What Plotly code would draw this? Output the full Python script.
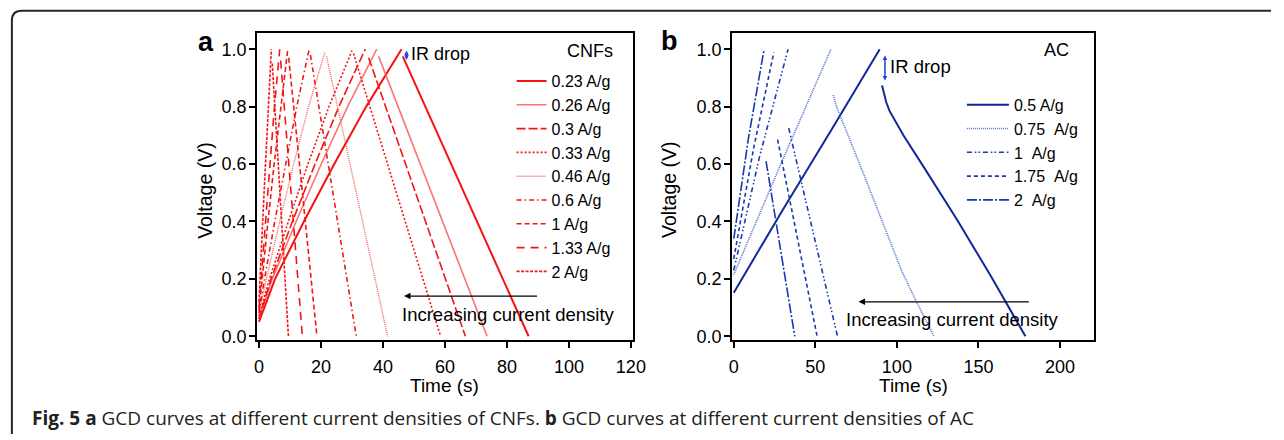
import plotly.graph_objects as go

# ---------------- Panel a : CNFs ----------------
cnf_labels = ["0.23 A/g", "0.26 A/g", "0.3 A/g", "0.33 A/g", "0.46 A/g",
              "0.6 A/g", "1 A/g", "1.33 A/g", "2 A/g"]
cnf_charge_t = [
    [0, 5.2, 14.5, 24.3, 34.6, 46.0],
    [0, 4.3, 12.0, 20.1, 28.6, 38.0],
    [0, 3.9, 10.8, 18.1, 25.8, 34.3],
    [0, 3.4, 9.5, 15.8, 22.6, 30.0],
    [0, 2.4, 6.7, 11.2, 16.0, 21.3],
    [0, 1.8, 5.1, 8.6, 12.2, 16.2],
    [0, 1.0, 2.9, 4.9, 7.0, 9.3],
    [0, 0.7, 2.1, 3.5, 5.0, 6.7],
    [0, 0.4, 1.2, 2.1, 3.0, 4.0],
]
cnf_charge_v = [
    [0.05, 0.2, 0.4, 0.6, 0.8, 1.0],
    [0.06, 0.2, 0.4, 0.6, 0.8, 1.0],
    [0.06, 0.2, 0.4, 0.6, 0.8, 1.0],
    [0.07, 0.2, 0.4, 0.6, 0.8, 0.995],
    [0.08, 0.2, 0.4, 0.6, 0.8, 0.99],
    [0.08, 0.2, 0.4, 0.6, 0.8, 1.0],
    [0.09, 0.2, 0.4, 0.6, 0.8, 1.0],
    [0.10, 0.2, 0.4, 0.6, 0.8, 1.0],
    [0.12, 0.2, 0.4, 0.6, 0.8, 1.0],
]
cnf_dis_t = [
    [46.4, 66.5, 87.0],
    [38.6, 56.0, 73.6],
    [35.4, 51.0, 66.6],
    [30.5, 44.5, 58.6],
    [21.8, 31.6, 41.5],
    [16.6, 24.0, 31.4],
    [9.6, 14.2, 18.7],
    [7.0, 10.5, 14.0],
    [4.3, 6.9, 9.5],
]
cnf_dis_v = [
    [0.975, 0.49, 0.0],
    [0.975, 0.49, 0.0],
    [0.97, 0.485, 0.0],
    [0.985, 0.49, 0.0],
    [0.975, 0.49, 0.0],
    [0.98, 0.49, 0.0],
    [0.97, 0.485, 0.0],
    [0.96, 0.48, 0.0],
    [0.95, 0.475, 0.0],
]

# ---------------- Panel b : AC ----------------
ac_labels = ["0.5 A/g", "0.75\u00a0\u00a0A/g", "1\u00a0\u00a0A/g", "1.75\u00a0\u00a0A/g", "2\u00a0\u00a0A/g"]
ac_charge_t = [
    [0, 30, 60, 89.5],
    [0, 30, 59.6],
    [0, 16, 33.3],
    [0, 12, 24.6],
    [0, 9, 18.6],
]
ac_charge_v = [
    [0.152, 0.44, 0.72, 1.0],
    [0.215, 0.615, 1.0],
    [0.23, 0.63, 1.0],
    [0.27, 0.65, 0.99],
    [0.34, 0.69, 1.0],
]
ac_dis_t = [
    [90.9, 92.0, 93.5, 95.5, 98.5, 104, 117, 137, 157.6, 178.8],
    [61.0, 63, 80, 103, 112, 122.8],
    [33.7, 48.5, 63.6],
    [26.9, 39.0, 51.1],
    [19.8, 28.6, 37.4],
]
ac_dis_v = [
    [0.874, 0.845, 0.815, 0.785, 0.755, 0.70, 0.585, 0.405, 0.21, 0.0],
    [0.84, 0.80, 0.56, 0.227, 0.12, 0.0],
    [0.725, 0.37, 0.0],
    [0.685, 0.345, 0.0],
    [0.61, 0.305, 0.0],
]

# ---------------- styles ----------------
RED = "rgb(245,20,20)"
cnf_styles = [
    dict(color=RED, width=2.0, dash="solid"),
    dict(color="rgba(250,90,90,0.85)", width=1.6, dash="solid"),
    dict(color=RED, width=1.6, dash="9px,3px"),
    dict(color=RED, width=1.6, dash="2px,2px"),
    dict(color="rgba(245,60,60,0.8)", width=1.4, dash="1px,1px"),
    dict(color=RED, width=1.6, dash="5px,3px,1.5px,3px"),
    dict(color=RED, width=1.6, dash="5px,3px"),
    dict(color=RED, width=1.6, dash="8px,6px"),
    dict(color=RED, width=1.6, dash="3px,1.5px"),
]
ac_styles = [
    dict(color="rgb(18,40,150)", width=2.0, dash="solid"),
    dict(color="rgb(80,110,205)", width=1.6, dash="1px,1px"),
    dict(color="rgb(25,55,175)", width=1.6, dash="5px,3px,1.5px,2px,1.5px,3px"),
    dict(color="rgb(25,55,175)", width=1.6, dash="4px,3px"),
    dict(color="rgb(25,55,175)", width=1.6, dash="10px,2px,2px,2px"),
]

FONT = "Arial, Liberation Sans, sans-serif"

fig = go.Figure()
for i, name in enumerate(cnf_labels):
    fig.add_trace(go.Scatter(
        x=cnf_charge_t[i] + [None] + cnf_dis_t[i],
        y=cnf_charge_v[i] + [None] + cnf_dis_v[i],
        mode="lines", name=name, line=cnf_styles[i],
        xaxis="x", yaxis="y", legend="legend", connectgaps=False))
for i, name in enumerate(ac_labels):
    fig.add_trace(go.Scatter(
        x=ac_charge_t[i] + [None] + ac_dis_t[i],
        y=ac_charge_v[i] + [None] + ac_dis_v[i],
        mode="lines", name=name, line=ac_styles[i],
        xaxis="x2", yaxis="y2", legend="legend2", connectgaps=False))

W, H = 1284, 440
def px(x):
    return x / W
def py(y):
    return 1 - y / H

axis_common = dict(showgrid=False, zeroline=False, showline=True, linecolor="black",
                   linewidth=1.5, mirror=True, ticks="outside", ticklen=6, tickwidth=1.5,
                   tickcolor="black", tickfont=dict(family=FONT, size=18, color="black"))

fig.update_layout(
    width=W, height=H, margin=dict(l=0, r=0, t=0, b=0),
    paper_bgcolor="white", plot_bgcolor="white",
    xaxis=dict(domain=[px(257), px(638)], range=[-0.7, 120.7], tickvals=[0, 20, 40, 60, 80, 100, 120],
               anchor="y", ticklabelstandoff=3, **axis_common),
    yaxis=dict(domain=[py(345), py(33)], range=[-0.014, 1.058], tickvals=[0, 0.2, 0.4, 0.6, 0.8, 1.0],
               tickformat=".1f", anchor="x", ticklabelstandoff=-1, **axis_common),
    xaxis2=dict(domain=[px(738), px(1105)], range=[-1.2, 221], tickvals=[0, 50, 100, 150, 200],
                anchor="y2", ticklabelstandoff=3, **axis_common),
    yaxis2=dict(domain=[py(345), py(33)], range=[-0.014, 1.058], tickvals=[0, 0.2, 0.4, 0.6, 0.8, 1.0],
                tickformat=".1f", anchor="x2", ticklabelstandoff=-1, **axis_common),
    legend=dict(x=px(515), y=py(65), xanchor="left", yanchor="top", bgcolor="rgba(0,0,0,0)",
                font=dict(family=FONT, size=16, color="black")),
    legend2=dict(x=px(971), y=py(89), xanchor="left", yanchor="top", bgcolor="rgba(0,0,0,0)",
                 font=dict(family=FONT, size=16, color="black"), itemwidth=42),
    showlegend=True,
)

def pann(text, x, y, size, angle=0, xa="center", ya="middle", family=FONT, color="black"):
    return dict(text=text, x=px(x), y=py(y), xref="paper", yref="paper", showarrow=False,
                xanchor=xa, yanchor=ya, textangle=angle,
                font=dict(family=family, size=size, color=color))

ann = []
# panel letters
ann.append(pann("<b>a</b>", 206, 43, 27))
ann.append(pann("<b>b</b>", 675, 42, 27))
# axis titles
for xc in (205, 675):
    ann.append(pann("Voltage (V)", xc, 193, 19.5, angle=-90))
for xc in (447, 922):
    ann.append(pann("Time (s)", xc, 391, 19))
# series group titles
ann.append(dict(text="CNFs", x=115, y=0.994, xref="x", yref="y", xanchor="right", yanchor="middle",
                showarrow=False, font=dict(family=FONT, size=18, color="black")))
ann.append(dict(text="AC", x=207, y=0.998, xref="x2", yref="y2", xanchor="right", yanchor="middle",
                showarrow=False, font=dict(family=FONT, size=18, color="black")))
# IR drop markers
ann.append(dict(text="", x=47.6, y=0.963, ax=47.6, ay=1.0, xref="x", yref="y", axref="x", ayref="y",
                showarrow=True, arrowhead=2, arrowside="end+start", arrowsize=0.6, arrowwidth=1.5,
                arrowcolor="rgb(30,60,230)"))
ann.append(dict(text="IR drop", x=48.3, y=0.983, xref="x", yref="y", xanchor="left", yanchor="middle",
                showarrow=False, font=dict(family=FONT, size=18, color="black")))
ann.append(dict(text="", x=92.7, y=0.891, ax=92.7, ay=0.983, xref="x2", yref="y2", axref="x2", ayref="y2",
                showarrow=True, arrowhead=2, arrowside="end+start", arrowsize=0.6, arrowwidth=1.5,
                arrowcolor="rgb(30,60,230)"))
ann.append(dict(text="IR drop", x=94.5, y=0.94, xref="x2", yref="y2", xanchor="left", yanchor="middle",
                showarrow=False, font=dict(family=FONT, size=18.5, color="black")))
# increasing current density arrows
ann.append(dict(text="", x=46.8, y=0.14, ax=90.2, ay=0.14, xref="x", yref="y", axref="x", ayref="y",
                showarrow=True, arrowhead=2, arrowsize=1, arrowwidth=1.3, arrowcolor="black"))
ann.append(dict(text="Increasing current density", x=45.4, y=0.075, xref="x", yref="y", xanchor="left",
                yanchor="middle", showarrow=False, font=dict(family=FONT, size=18.5, color="black")))
ann.append(dict(text="", x=76.5, y=0.12, ax=181.8, ay=0.12, xref="x2", yref="y2", axref="x2", ayref="y2",
                showarrow=True, arrowhead=2, arrowsize=1, arrowwidth=1.3, arrowcolor="black"))
ann.append(dict(text="Increasing current density", x=67.7, y=0.06, xref="x2", yref="y2", xanchor="left",
                yanchor="middle", showarrow=False, font=dict(family=FONT, size=18.5, color="black")))
# caption
ann.append(pann("<b>Fig. 5</b> <b>a</b> GCD curves at different current densities of CNFs. "
                "<b>b</b> GCD curves at different current densities of AC",
                27, 424, 19, xa="left", ya="middle", family="Open Sans, sans-serif",
                color="rgb(35,31,32)"))
fig.update_layout(annotations=ann)

# framing border (top + left with rounded corner)
x0, y0, x1, r = px(9), py(11), 1.0, 10
path = (f"M {x0},0 L {x0},{py(11 + r)} Q {x0},{y0} {px(9 + r)},{y0} L {x1},{y0}")
fig.add_shape(type="path", path=path, xref="paper", yref="paper",
              line=dict(color="rgb(40,40,40)", width=2))

fig.write_html("out.html", config={"displayModeBar": False},
               post_script="document.body.style.margin='0px';document.body.style.padding='0px';"
                           "document.body.style.overflow='hidden';")
